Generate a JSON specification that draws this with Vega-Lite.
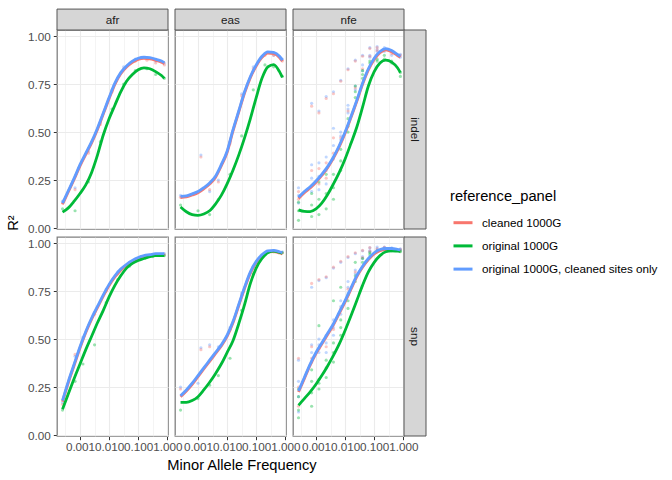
{
"$schema":"https://vega.github.io/schema/vega-lite/v6.json",
"padding":{"left":6,"top":7,"right":5,"bottom":5},
"background":"white",
"config":{"font":"Liberation Sans","view":{"stroke":"#808080","strokeWidth":1.3}},
"data":{"values":[
{"k":"cs","c":"afr","r":"indel","lab":"afr"},
{"k":"cs","c":"eas","r":"indel","lab":"eas"},
{"k":"cs","c":"nfe","r":"indel","lab":"nfe"},
{"k":"rs","c":"nfe","r":"indel","lab":"indel"},
{"k":"rs","c":"nfe","r":"snp","lab":"snp"},
{"k":"l","c":"afr","r":"indel","s":"original 1000G, cleaned sites only","x":0.000251,"y":0.13},
{"k":"l","c":"afr","r":"indel","s":"original 1000G, cleaned sites only","x":0.000398,"y":0.195},
{"k":"l","c":"afr","r":"indel","s":"original 1000G, cleaned sites only","x":0.000631,"y":0.26},
{"k":"l","c":"afr","r":"indel","s":"original 1000G, cleaned sites only","x":0.001,"y":0.33},
{"k":"l","c":"afr","r":"indel","s":"original 1000G, cleaned sites only","x":0.00158,"y":0.39},
{"k":"l","c":"afr","r":"indel","s":"original 1000G, cleaned sites only","x":0.00251,"y":0.45},
{"k":"l","c":"afr","r":"indel","s":"original 1000G, cleaned sites only","x":0.00398,"y":0.52},
{"k":"l","c":"afr","r":"indel","s":"original 1000G, cleaned sites only","x":0.00631,"y":0.6},
{"k":"l","c":"afr","r":"indel","s":"original 1000G, cleaned sites only","x":0.01,"y":0.68},
{"k":"l","c":"afr","r":"indel","s":"original 1000G, cleaned sites only","x":0.0158,"y":0.755},
{"k":"l","c":"afr","r":"indel","s":"original 1000G, cleaned sites only","x":0.0251,"y":0.81},
{"k":"l","c":"afr","r":"indel","s":"original 1000G, cleaned sites only","x":0.0398,"y":0.845},
{"k":"l","c":"afr","r":"indel","s":"original 1000G, cleaned sites only","x":0.0631,"y":0.87},
{"k":"l","c":"afr","r":"indel","s":"original 1000G, cleaned sites only","x":0.1,"y":0.885},
{"k":"l","c":"afr","r":"indel","s":"original 1000G, cleaned sites only","x":0.158,"y":0.89},
{"k":"l","c":"afr","r":"indel","s":"original 1000G, cleaned sites only","x":0.251,"y":0.888},
{"k":"l","c":"afr","r":"indel","s":"original 1000G, cleaned sites only","x":0.398,"y":0.88},
{"k":"l","c":"afr","r":"indel","s":"original 1000G, cleaned sites only","x":0.631,"y":0.87},
{"k":"l","c":"afr","r":"indel","s":"original 1000G, cleaned sites only","x":0.794,"y":0.862},
{"k":"l","c":"afr","r":"indel","s":"original 1000G","x":0.000251,"y":0.083},
{"k":"l","c":"afr","r":"indel","s":"original 1000G","x":0.000398,"y":0.105},
{"k":"l","c":"afr","r":"indel","s":"original 1000G","x":0.000631,"y":0.14},
{"k":"l","c":"afr","r":"indel","s":"original 1000G","x":0.001,"y":0.18},
{"k":"l","c":"afr","r":"indel","s":"original 1000G","x":0.00158,"y":0.225},
{"k":"l","c":"afr","r":"indel","s":"original 1000G","x":0.00251,"y":0.29},
{"k":"l","c":"afr","r":"indel","s":"original 1000G","x":0.00398,"y":0.38},
{"k":"l","c":"afr","r":"indel","s":"original 1000G","x":0.00631,"y":0.485},
{"k":"l","c":"afr","r":"indel","s":"original 1000G","x":0.01,"y":0.57},
{"k":"l","c":"afr","r":"indel","s":"original 1000G","x":0.0158,"y":0.64},
{"k":"l","c":"afr","r":"indel","s":"original 1000G","x":0.0251,"y":0.71},
{"k":"l","c":"afr","r":"indel","s":"original 1000G","x":0.0398,"y":0.765},
{"k":"l","c":"afr","r":"indel","s":"original 1000G","x":0.0631,"y":0.8},
{"k":"l","c":"afr","r":"indel","s":"original 1000G","x":0.1,"y":0.825},
{"k":"l","c":"afr","r":"indel","s":"original 1000G","x":0.158,"y":0.835},
{"k":"l","c":"afr","r":"indel","s":"original 1000G","x":0.251,"y":0.83},
{"k":"l","c":"afr","r":"indel","s":"original 1000G","x":0.398,"y":0.815},
{"k":"l","c":"afr","r":"indel","s":"original 1000G","x":0.631,"y":0.795},
{"k":"l","c":"afr","r":"indel","s":"original 1000G","x":0.794,"y":0.78},
{"k":"l","c":"afr","r":"indel","s":"cleaned 1000G","x":0.000251,"y":0.124},
{"k":"l","c":"afr","r":"indel","s":"cleaned 1000G","x":0.000398,"y":0.189},
{"k":"l","c":"afr","r":"indel","s":"cleaned 1000G","x":0.000631,"y":0.254},
{"k":"l","c":"afr","r":"indel","s":"cleaned 1000G","x":0.001,"y":0.324},
{"k":"l","c":"afr","r":"indel","s":"cleaned 1000G","x":0.00158,"y":0.384},
{"k":"l","c":"afr","r":"indel","s":"cleaned 1000G","x":0.00251,"y":0.444},
{"k":"l","c":"afr","r":"indel","s":"cleaned 1000G","x":0.00398,"y":0.514},
{"k":"l","c":"afr","r":"indel","s":"cleaned 1000G","x":0.00631,"y":0.594},
{"k":"l","c":"afr","r":"indel","s":"cleaned 1000G","x":0.01,"y":0.674},
{"k":"l","c":"afr","r":"indel","s":"cleaned 1000G","x":0.0158,"y":0.749},
{"k":"l","c":"afr","r":"indel","s":"cleaned 1000G","x":0.0251,"y":0.804},
{"k":"l","c":"afr","r":"indel","s":"cleaned 1000G","x":0.0398,"y":0.839},
{"k":"l","c":"afr","r":"indel","s":"cleaned 1000G","x":0.0631,"y":0.864},
{"k":"l","c":"afr","r":"indel","s":"cleaned 1000G","x":0.1,"y":0.879},
{"k":"l","c":"afr","r":"indel","s":"cleaned 1000G","x":0.158,"y":0.884},
{"k":"l","c":"afr","r":"indel","s":"cleaned 1000G","x":0.251,"y":0.882},
{"k":"l","c":"afr","r":"indel","s":"cleaned 1000G","x":0.398,"y":0.874},
{"k":"l","c":"afr","r":"indel","s":"cleaned 1000G","x":0.631,"y":0.864},
{"k":"l","c":"afr","r":"indel","s":"cleaned 1000G","x":0.794,"y":0.856},
{"k":"l","c":"eas","r":"indel","s":"original 1000G, cleaned sites only","x":0.000251,"y":0.165},
{"k":"l","c":"eas","r":"indel","s":"original 1000G, cleaned sites only","x":0.000398,"y":0.168},
{"k":"l","c":"eas","r":"indel","s":"original 1000G, cleaned sites only","x":0.000631,"y":0.178},
{"k":"l","c":"eas","r":"indel","s":"original 1000G, cleaned sites only","x":0.001,"y":0.19},
{"k":"l","c":"eas","r":"indel","s":"original 1000G, cleaned sites only","x":0.00158,"y":0.21},
{"k":"l","c":"eas","r":"indel","s":"original 1000G, cleaned sites only","x":0.00251,"y":0.235},
{"k":"l","c":"eas","r":"indel","s":"original 1000G, cleaned sites only","x":0.00398,"y":0.27},
{"k":"l","c":"eas","r":"indel","s":"original 1000G, cleaned sites only","x":0.00631,"y":0.33},
{"k":"l","c":"eas","r":"indel","s":"original 1000G, cleaned sites only","x":0.01,"y":0.4},
{"k":"l","c":"eas","r":"indel","s":"original 1000G, cleaned sites only","x":0.0158,"y":0.51},
{"k":"l","c":"eas","r":"indel","s":"original 1000G, cleaned sites only","x":0.0251,"y":0.61},
{"k":"l","c":"eas","r":"indel","s":"original 1000G, cleaned sites only","x":0.0398,"y":0.71},
{"k":"l","c":"eas","r":"indel","s":"original 1000G, cleaned sites only","x":0.0631,"y":0.79},
{"k":"l","c":"eas","r":"indel","s":"original 1000G, cleaned sites only","x":0.1,"y":0.85},
{"k":"l","c":"eas","r":"indel","s":"original 1000G, cleaned sites only","x":0.158,"y":0.895},
{"k":"l","c":"eas","r":"indel","s":"original 1000G, cleaned sites only","x":0.251,"y":0.918},
{"k":"l","c":"eas","r":"indel","s":"original 1000G, cleaned sites only","x":0.398,"y":0.915},
{"k":"l","c":"eas","r":"indel","s":"original 1000G, cleaned sites only","x":0.631,"y":0.895},
{"k":"l","c":"eas","r":"indel","s":"original 1000G, cleaned sites only","x":0.794,"y":0.875},
{"k":"l","c":"eas","r":"indel","s":"original 1000G","x":0.000251,"y":0.11},
{"k":"l","c":"eas","r":"indel","s":"original 1000G","x":0.000398,"y":0.085},
{"k":"l","c":"eas","r":"indel","s":"original 1000G","x":0.000631,"y":0.07},
{"k":"l","c":"eas","r":"indel","s":"original 1000G","x":0.001,"y":0.066},
{"k":"l","c":"eas","r":"indel","s":"original 1000G","x":0.00158,"y":0.073},
{"k":"l","c":"eas","r":"indel","s":"original 1000G","x":0.00251,"y":0.09},
{"k":"l","c":"eas","r":"indel","s":"original 1000G","x":0.00398,"y":0.125},
{"k":"l","c":"eas","r":"indel","s":"original 1000G","x":0.00631,"y":0.17},
{"k":"l","c":"eas","r":"indel","s":"original 1000G","x":0.01,"y":0.23},
{"k":"l","c":"eas","r":"indel","s":"original 1000G","x":0.0158,"y":0.3},
{"k":"l","c":"eas","r":"indel","s":"original 1000G","x":0.0251,"y":0.38},
{"k":"l","c":"eas","r":"indel","s":"original 1000G","x":0.0398,"y":0.47},
{"k":"l","c":"eas","r":"indel","s":"original 1000G","x":0.0631,"y":0.57},
{"k":"l","c":"eas","r":"indel","s":"original 1000G","x":0.1,"y":0.68},
{"k":"l","c":"eas","r":"indel","s":"original 1000G","x":0.158,"y":0.78},
{"k":"l","c":"eas","r":"indel","s":"original 1000G","x":0.251,"y":0.84},
{"k":"l","c":"eas","r":"indel","s":"original 1000G","x":0.398,"y":0.852},
{"k":"l","c":"eas","r":"indel","s":"original 1000G","x":0.631,"y":0.815},
{"k":"l","c":"eas","r":"indel","s":"original 1000G","x":0.794,"y":0.785},
{"k":"l","c":"eas","r":"indel","s":"cleaned 1000G","x":0.000251,"y":0.159},
{"k":"l","c":"eas","r":"indel","s":"cleaned 1000G","x":0.000398,"y":0.162},
{"k":"l","c":"eas","r":"indel","s":"cleaned 1000G","x":0.000631,"y":0.172},
{"k":"l","c":"eas","r":"indel","s":"cleaned 1000G","x":0.001,"y":0.184},
{"k":"l","c":"eas","r":"indel","s":"cleaned 1000G","x":0.00158,"y":0.204},
{"k":"l","c":"eas","r":"indel","s":"cleaned 1000G","x":0.00251,"y":0.229},
{"k":"l","c":"eas","r":"indel","s":"cleaned 1000G","x":0.00398,"y":0.264},
{"k":"l","c":"eas","r":"indel","s":"cleaned 1000G","x":0.00631,"y":0.324},
{"k":"l","c":"eas","r":"indel","s":"cleaned 1000G","x":0.01,"y":0.394},
{"k":"l","c":"eas","r":"indel","s":"cleaned 1000G","x":0.0158,"y":0.504},
{"k":"l","c":"eas","r":"indel","s":"cleaned 1000G","x":0.0251,"y":0.604},
{"k":"l","c":"eas","r":"indel","s":"cleaned 1000G","x":0.0398,"y":0.704},
{"k":"l","c":"eas","r":"indel","s":"cleaned 1000G","x":0.0631,"y":0.784},
{"k":"l","c":"eas","r":"indel","s":"cleaned 1000G","x":0.1,"y":0.844},
{"k":"l","c":"eas","r":"indel","s":"cleaned 1000G","x":0.158,"y":0.889},
{"k":"l","c":"eas","r":"indel","s":"cleaned 1000G","x":0.251,"y":0.912},
{"k":"l","c":"eas","r":"indel","s":"cleaned 1000G","x":0.398,"y":0.909},
{"k":"l","c":"eas","r":"indel","s":"cleaned 1000G","x":0.631,"y":0.889},
{"k":"l","c":"eas","r":"indel","s":"cleaned 1000G","x":0.794,"y":0.869},
{"k":"l","c":"nfe","r":"indel","s":"original 1000G, cleaned sites only","x":0.000251,"y":0.16},
{"k":"l","c":"nfe","r":"indel","s":"original 1000G, cleaned sites only","x":0.000398,"y":0.19},
{"k":"l","c":"nfe","r":"indel","s":"original 1000G, cleaned sites only","x":0.000631,"y":0.215},
{"k":"l","c":"nfe","r":"indel","s":"original 1000G, cleaned sites only","x":0.001,"y":0.245},
{"k":"l","c":"nfe","r":"indel","s":"original 1000G, cleaned sites only","x":0.00158,"y":0.28},
{"k":"l","c":"nfe","r":"indel","s":"original 1000G, cleaned sites only","x":0.00251,"y":0.32},
{"k":"l","c":"nfe","r":"indel","s":"original 1000G, cleaned sites only","x":0.00398,"y":0.37},
{"k":"l","c":"nfe","r":"indel","s":"original 1000G, cleaned sites only","x":0.00631,"y":0.43},
{"k":"l","c":"nfe","r":"indel","s":"original 1000G, cleaned sites only","x":0.01,"y":0.5},
{"k":"l","c":"nfe","r":"indel","s":"original 1000G, cleaned sites only","x":0.0158,"y":0.58},
{"k":"l","c":"nfe","r":"indel","s":"original 1000G, cleaned sites only","x":0.0251,"y":0.665},
{"k":"l","c":"nfe","r":"indel","s":"original 1000G, cleaned sites only","x":0.0398,"y":0.755},
{"k":"l","c":"nfe","r":"indel","s":"original 1000G, cleaned sites only","x":0.0631,"y":0.83},
{"k":"l","c":"nfe","r":"indel","s":"original 1000G, cleaned sites only","x":0.1,"y":0.885},
{"k":"l","c":"nfe","r":"indel","s":"original 1000G, cleaned sites only","x":0.158,"y":0.92},
{"k":"l","c":"nfe","r":"indel","s":"original 1000G, cleaned sites only","x":0.251,"y":0.935},
{"k":"l","c":"nfe","r":"indel","s":"original 1000G, cleaned sites only","x":0.398,"y":0.925},
{"k":"l","c":"nfe","r":"indel","s":"original 1000G, cleaned sites only","x":0.631,"y":0.905},
{"k":"l","c":"nfe","r":"indel","s":"original 1000G, cleaned sites only","x":0.794,"y":0.895},
{"k":"l","c":"nfe","r":"indel","s":"original 1000G","x":0.000251,"y":0.095},
{"k":"l","c":"nfe","r":"indel","s":"original 1000G","x":0.000398,"y":0.087},
{"k":"l","c":"nfe","r":"indel","s":"original 1000G","x":0.000631,"y":0.086},
{"k":"l","c":"nfe","r":"indel","s":"original 1000G","x":0.001,"y":0.1},
{"k":"l","c":"nfe","r":"indel","s":"original 1000G","x":0.00158,"y":0.13},
{"k":"l","c":"nfe","r":"indel","s":"original 1000G","x":0.00251,"y":0.175},
{"k":"l","c":"nfe","r":"indel","s":"original 1000G","x":0.00398,"y":0.23},
{"k":"l","c":"nfe","r":"indel","s":"original 1000G","x":0.00631,"y":0.29},
{"k":"l","c":"nfe","r":"indel","s":"original 1000G","x":0.01,"y":0.36},
{"k":"l","c":"nfe","r":"indel","s":"original 1000G","x":0.0158,"y":0.44},
{"k":"l","c":"nfe","r":"indel","s":"original 1000G","x":0.0251,"y":0.525},
{"k":"l","c":"nfe","r":"indel","s":"original 1000G","x":0.0398,"y":0.63},
{"k":"l","c":"nfe","r":"indel","s":"original 1000G","x":0.0631,"y":0.74},
{"k":"l","c":"nfe","r":"indel","s":"original 1000G","x":0.1,"y":0.815},
{"k":"l","c":"nfe","r":"indel","s":"original 1000G","x":0.158,"y":0.86},
{"k":"l","c":"nfe","r":"indel","s":"original 1000G","x":0.251,"y":0.875},
{"k":"l","c":"nfe","r":"indel","s":"original 1000G","x":0.398,"y":0.865},
{"k":"l","c":"nfe","r":"indel","s":"original 1000G","x":0.631,"y":0.835},
{"k":"l","c":"nfe","r":"indel","s":"original 1000G","x":0.794,"y":0.81},
{"k":"l","c":"nfe","r":"indel","s":"cleaned 1000G","x":0.000251,"y":0.154},
{"k":"l","c":"nfe","r":"indel","s":"cleaned 1000G","x":0.000398,"y":0.184},
{"k":"l","c":"nfe","r":"indel","s":"cleaned 1000G","x":0.000631,"y":0.209},
{"k":"l","c":"nfe","r":"indel","s":"cleaned 1000G","x":0.001,"y":0.239},
{"k":"l","c":"nfe","r":"indel","s":"cleaned 1000G","x":0.00158,"y":0.274},
{"k":"l","c":"nfe","r":"indel","s":"cleaned 1000G","x":0.00251,"y":0.314},
{"k":"l","c":"nfe","r":"indel","s":"cleaned 1000G","x":0.00398,"y":0.364},
{"k":"l","c":"nfe","r":"indel","s":"cleaned 1000G","x":0.00631,"y":0.424},
{"k":"l","c":"nfe","r":"indel","s":"cleaned 1000G","x":0.01,"y":0.494},
{"k":"l","c":"nfe","r":"indel","s":"cleaned 1000G","x":0.0158,"y":0.574},
{"k":"l","c":"nfe","r":"indel","s":"cleaned 1000G","x":0.0251,"y":0.659},
{"k":"l","c":"nfe","r":"indel","s":"cleaned 1000G","x":0.0398,"y":0.749},
{"k":"l","c":"nfe","r":"indel","s":"cleaned 1000G","x":0.0631,"y":0.824},
{"k":"l","c":"nfe","r":"indel","s":"cleaned 1000G","x":0.1,"y":0.879},
{"k":"l","c":"nfe","r":"indel","s":"cleaned 1000G","x":0.158,"y":0.914},
{"k":"l","c":"nfe","r":"indel","s":"cleaned 1000G","x":0.251,"y":0.929},
{"k":"l","c":"nfe","r":"indel","s":"cleaned 1000G","x":0.398,"y":0.919},
{"k":"l","c":"nfe","r":"indel","s":"cleaned 1000G","x":0.631,"y":0.899},
{"k":"l","c":"nfe","r":"indel","s":"cleaned 1000G","x":0.794,"y":0.889},
{"k":"l","c":"afr","r":"snp","s":"original 1000G, cleaned sites only","x":0.000251,"y":0.18},
{"k":"l","c":"afr","r":"snp","s":"original 1000G, cleaned sites only","x":0.000398,"y":0.28},
{"k":"l","c":"afr","r":"snp","s":"original 1000G, cleaned sites only","x":0.000631,"y":0.37},
{"k":"l","c":"afr","r":"snp","s":"original 1000G, cleaned sites only","x":0.001,"y":0.46},
{"k":"l","c":"afr","r":"snp","s":"original 1000G, cleaned sites only","x":0.00158,"y":0.54},
{"k":"l","c":"afr","r":"snp","s":"original 1000G, cleaned sites only","x":0.00251,"y":0.61},
{"k":"l","c":"afr","r":"snp","s":"original 1000G, cleaned sites only","x":0.00398,"y":0.67},
{"k":"l","c":"afr","r":"snp","s":"original 1000G, cleaned sites only","x":0.00631,"y":0.73},
{"k":"l","c":"afr","r":"snp","s":"original 1000G, cleaned sites only","x":0.01,"y":0.785},
{"k":"l","c":"afr","r":"snp","s":"original 1000G, cleaned sites only","x":0.0158,"y":0.83},
{"k":"l","c":"afr","r":"snp","s":"original 1000G, cleaned sites only","x":0.0251,"y":0.865},
{"k":"l","c":"afr","r":"snp","s":"original 1000G, cleaned sites only","x":0.0398,"y":0.89},
{"k":"l","c":"afr","r":"snp","s":"original 1000G, cleaned sites only","x":0.0631,"y":0.91},
{"k":"l","c":"afr","r":"snp","s":"original 1000G, cleaned sites only","x":0.1,"y":0.925},
{"k":"l","c":"afr","r":"snp","s":"original 1000G, cleaned sites only","x":0.158,"y":0.935},
{"k":"l","c":"afr","r":"snp","s":"original 1000G, cleaned sites only","x":0.251,"y":0.94},
{"k":"l","c":"afr","r":"snp","s":"original 1000G, cleaned sites only","x":0.398,"y":0.945},
{"k":"l","c":"afr","r":"snp","s":"original 1000G, cleaned sites only","x":0.631,"y":0.945},
{"k":"l","c":"afr","r":"snp","s":"original 1000G, cleaned sites only","x":0.794,"y":0.945},
{"k":"l","c":"afr","r":"snp","s":"original 1000G","x":0.000251,"y":0.135},
{"k":"l","c":"afr","r":"snp","s":"original 1000G","x":0.000398,"y":0.215},
{"k":"l","c":"afr","r":"snp","s":"original 1000G","x":0.000631,"y":0.295},
{"k":"l","c":"afr","r":"snp","s":"original 1000G","x":0.001,"y":0.37},
{"k":"l","c":"afr","r":"snp","s":"original 1000G","x":0.00158,"y":0.445},
{"k":"l","c":"afr","r":"snp","s":"original 1000G","x":0.00251,"y":0.515},
{"k":"l","c":"afr","r":"snp","s":"original 1000G","x":0.00398,"y":0.585},
{"k":"l","c":"afr","r":"snp","s":"original 1000G","x":0.00631,"y":0.65},
{"k":"l","c":"afr","r":"snp","s":"original 1000G","x":0.01,"y":0.72},
{"k":"l","c":"afr","r":"snp","s":"original 1000G","x":0.0158,"y":0.78},
{"k":"l","c":"afr","r":"snp","s":"original 1000G","x":0.0251,"y":0.83},
{"k":"l","c":"afr","r":"snp","s":"original 1000G","x":0.0398,"y":0.87},
{"k":"l","c":"afr","r":"snp","s":"original 1000G","x":0.0631,"y":0.895},
{"k":"l","c":"afr","r":"snp","s":"original 1000G","x":0.1,"y":0.91},
{"k":"l","c":"afr","r":"snp","s":"original 1000G","x":0.158,"y":0.92},
{"k":"l","c":"afr","r":"snp","s":"original 1000G","x":0.251,"y":0.93},
{"k":"l","c":"afr","r":"snp","s":"original 1000G","x":0.398,"y":0.935},
{"k":"l","c":"afr","r":"snp","s":"original 1000G","x":0.631,"y":0.935},
{"k":"l","c":"afr","r":"snp","s":"original 1000G","x":0.794,"y":0.935},
{"k":"l","c":"afr","r":"snp","s":"cleaned 1000G","x":0.000251,"y":0.174},
{"k":"l","c":"afr","r":"snp","s":"cleaned 1000G","x":0.000398,"y":0.274},
{"k":"l","c":"afr","r":"snp","s":"cleaned 1000G","x":0.000631,"y":0.364},
{"k":"l","c":"afr","r":"snp","s":"cleaned 1000G","x":0.001,"y":0.454},
{"k":"l","c":"afr","r":"snp","s":"cleaned 1000G","x":0.00158,"y":0.534},
{"k":"l","c":"afr","r":"snp","s":"cleaned 1000G","x":0.00251,"y":0.604},
{"k":"l","c":"afr","r":"snp","s":"cleaned 1000G","x":0.00398,"y":0.664},
{"k":"l","c":"afr","r":"snp","s":"cleaned 1000G","x":0.00631,"y":0.724},
{"k":"l","c":"afr","r":"snp","s":"cleaned 1000G","x":0.01,"y":0.779},
{"k":"l","c":"afr","r":"snp","s":"cleaned 1000G","x":0.0158,"y":0.824},
{"k":"l","c":"afr","r":"snp","s":"cleaned 1000G","x":0.0251,"y":0.859},
{"k":"l","c":"afr","r":"snp","s":"cleaned 1000G","x":0.0398,"y":0.884},
{"k":"l","c":"afr","r":"snp","s":"cleaned 1000G","x":0.0631,"y":0.904},
{"k":"l","c":"afr","r":"snp","s":"cleaned 1000G","x":0.1,"y":0.919},
{"k":"l","c":"afr","r":"snp","s":"cleaned 1000G","x":0.158,"y":0.929},
{"k":"l","c":"afr","r":"snp","s":"cleaned 1000G","x":0.251,"y":0.934},
{"k":"l","c":"afr","r":"snp","s":"cleaned 1000G","x":0.398,"y":0.939},
{"k":"l","c":"afr","r":"snp","s":"cleaned 1000G","x":0.631,"y":0.939},
{"k":"l","c":"afr","r":"snp","s":"cleaned 1000G","x":0.794,"y":0.939},
{"k":"l","c":"eas","r":"snp","s":"original 1000G, cleaned sites only","x":0.000251,"y":0.205},
{"k":"l","c":"eas","r":"snp","s":"original 1000G, cleaned sites only","x":0.000398,"y":0.235},
{"k":"l","c":"eas","r":"snp","s":"original 1000G, cleaned sites only","x":0.000631,"y":0.27},
{"k":"l","c":"eas","r":"snp","s":"original 1000G, cleaned sites only","x":0.001,"y":0.31},
{"k":"l","c":"eas","r":"snp","s":"original 1000G, cleaned sites only","x":0.00158,"y":0.35},
{"k":"l","c":"eas","r":"snp","s":"original 1000G, cleaned sites only","x":0.00251,"y":0.39},
{"k":"l","c":"eas","r":"snp","s":"original 1000G, cleaned sites only","x":0.00398,"y":0.43},
{"k":"l","c":"eas","r":"snp","s":"original 1000G, cleaned sites only","x":0.00631,"y":0.47},
{"k":"l","c":"eas","r":"snp","s":"original 1000G, cleaned sites only","x":0.01,"y":0.52},
{"k":"l","c":"eas","r":"snp","s":"original 1000G, cleaned sites only","x":0.0158,"y":0.59},
{"k":"l","c":"eas","r":"snp","s":"original 1000G, cleaned sites only","x":0.0251,"y":0.68},
{"k":"l","c":"eas","r":"snp","s":"original 1000G, cleaned sites only","x":0.0398,"y":0.77},
{"k":"l","c":"eas","r":"snp","s":"original 1000G, cleaned sites only","x":0.0631,"y":0.85},
{"k":"l","c":"eas","r":"snp","s":"original 1000G, cleaned sites only","x":0.1,"y":0.905},
{"k":"l","c":"eas","r":"snp","s":"original 1000G, cleaned sites only","x":0.158,"y":0.94},
{"k":"l","c":"eas","r":"snp","s":"original 1000G, cleaned sites only","x":0.251,"y":0.96},
{"k":"l","c":"eas","r":"snp","s":"original 1000G, cleaned sites only","x":0.398,"y":0.962},
{"k":"l","c":"eas","r":"snp","s":"original 1000G, cleaned sites only","x":0.631,"y":0.955},
{"k":"l","c":"eas","r":"snp","s":"original 1000G, cleaned sites only","x":0.794,"y":0.95},
{"k":"l","c":"eas","r":"snp","s":"original 1000G","x":0.000251,"y":0.17},
{"k":"l","c":"eas","r":"snp","s":"original 1000G","x":0.000398,"y":0.17},
{"k":"l","c":"eas","r":"snp","s":"original 1000G","x":0.000631,"y":0.18},
{"k":"l","c":"eas","r":"snp","s":"original 1000G","x":0.001,"y":0.2},
{"k":"l","c":"eas","r":"snp","s":"original 1000G","x":0.00158,"y":0.235},
{"k":"l","c":"eas","r":"snp","s":"original 1000G","x":0.00251,"y":0.275},
{"k":"l","c":"eas","r":"snp","s":"original 1000G","x":0.00398,"y":0.32},
{"k":"l","c":"eas","r":"snp","s":"original 1000G","x":0.00631,"y":0.37},
{"k":"l","c":"eas","r":"snp","s":"original 1000G","x":0.01,"y":0.43},
{"k":"l","c":"eas","r":"snp","s":"original 1000G","x":0.0158,"y":0.49},
{"k":"l","c":"eas","r":"snp","s":"original 1000G","x":0.0251,"y":0.58},
{"k":"l","c":"eas","r":"snp","s":"original 1000G","x":0.0398,"y":0.68},
{"k":"l","c":"eas","r":"snp","s":"original 1000G","x":0.0631,"y":0.79},
{"k":"l","c":"eas","r":"snp","s":"original 1000G","x":0.1,"y":0.87},
{"k":"l","c":"eas","r":"snp","s":"original 1000G","x":0.158,"y":0.92},
{"k":"l","c":"eas","r":"snp","s":"original 1000G","x":0.251,"y":0.95},
{"k":"l","c":"eas","r":"snp","s":"original 1000G","x":0.398,"y":0.958},
{"k":"l","c":"eas","r":"snp","s":"original 1000G","x":0.631,"y":0.952},
{"k":"l","c":"eas","r":"snp","s":"original 1000G","x":0.794,"y":0.948},
{"k":"l","c":"eas","r":"snp","s":"cleaned 1000G","x":0.000251,"y":0.199},
{"k":"l","c":"eas","r":"snp","s":"cleaned 1000G","x":0.000398,"y":0.229},
{"k":"l","c":"eas","r":"snp","s":"cleaned 1000G","x":0.000631,"y":0.264},
{"k":"l","c":"eas","r":"snp","s":"cleaned 1000G","x":0.001,"y":0.304},
{"k":"l","c":"eas","r":"snp","s":"cleaned 1000G","x":0.00158,"y":0.344},
{"k":"l","c":"eas","r":"snp","s":"cleaned 1000G","x":0.00251,"y":0.384},
{"k":"l","c":"eas","r":"snp","s":"cleaned 1000G","x":0.00398,"y":0.424},
{"k":"l","c":"eas","r":"snp","s":"cleaned 1000G","x":0.00631,"y":0.464},
{"k":"l","c":"eas","r":"snp","s":"cleaned 1000G","x":0.01,"y":0.514},
{"k":"l","c":"eas","r":"snp","s":"cleaned 1000G","x":0.0158,"y":0.584},
{"k":"l","c":"eas","r":"snp","s":"cleaned 1000G","x":0.0251,"y":0.674},
{"k":"l","c":"eas","r":"snp","s":"cleaned 1000G","x":0.0398,"y":0.764},
{"k":"l","c":"eas","r":"snp","s":"cleaned 1000G","x":0.0631,"y":0.844},
{"k":"l","c":"eas","r":"snp","s":"cleaned 1000G","x":0.1,"y":0.899},
{"k":"l","c":"eas","r":"snp","s":"cleaned 1000G","x":0.158,"y":0.934},
{"k":"l","c":"eas","r":"snp","s":"cleaned 1000G","x":0.251,"y":0.954},
{"k":"l","c":"eas","r":"snp","s":"cleaned 1000G","x":0.398,"y":0.956},
{"k":"l","c":"eas","r":"snp","s":"cleaned 1000G","x":0.631,"y":0.949},
{"k":"l","c":"eas","r":"snp","s":"cleaned 1000G","x":0.794,"y":0.944},
{"k":"l","c":"nfe","r":"snp","s":"original 1000G, cleaned sites only","x":0.000251,"y":0.23},
{"k":"l","c":"nfe","r":"snp","s":"original 1000G, cleaned sites only","x":0.000398,"y":0.3},
{"k":"l","c":"nfe","r":"snp","s":"original 1000G, cleaned sites only","x":0.000631,"y":0.37},
{"k":"l","c":"nfe","r":"snp","s":"original 1000G, cleaned sites only","x":0.001,"y":0.43},
{"k":"l","c":"nfe","r":"snp","s":"original 1000G, cleaned sites only","x":0.00158,"y":0.48},
{"k":"l","c":"nfe","r":"snp","s":"original 1000G, cleaned sites only","x":0.00251,"y":0.53},
{"k":"l","c":"nfe","r":"snp","s":"original 1000G, cleaned sites only","x":0.00398,"y":0.58},
{"k":"l","c":"nfe","r":"snp","s":"original 1000G, cleaned sites only","x":0.00631,"y":0.64},
{"k":"l","c":"nfe","r":"snp","s":"original 1000G, cleaned sites only","x":0.01,"y":0.7},
{"k":"l","c":"nfe","r":"snp","s":"original 1000G, cleaned sites only","x":0.0158,"y":0.765},
{"k":"l","c":"nfe","r":"snp","s":"original 1000G, cleaned sites only","x":0.0251,"y":0.83},
{"k":"l","c":"nfe","r":"snp","s":"original 1000G, cleaned sites only","x":0.0398,"y":0.88},
{"k":"l","c":"nfe","r":"snp","s":"original 1000G, cleaned sites only","x":0.0631,"y":0.92},
{"k":"l","c":"nfe","r":"snp","s":"original 1000G, cleaned sites only","x":0.1,"y":0.95},
{"k":"l","c":"nfe","r":"snp","s":"original 1000G, cleaned sites only","x":0.158,"y":0.967},
{"k":"l","c":"nfe","r":"snp","s":"original 1000G, cleaned sites only","x":0.251,"y":0.972},
{"k":"l","c":"nfe","r":"snp","s":"original 1000G, cleaned sites only","x":0.398,"y":0.972},
{"k":"l","c":"nfe","r":"snp","s":"original 1000G, cleaned sites only","x":0.631,"y":0.968},
{"k":"l","c":"nfe","r":"snp","s":"original 1000G, cleaned sites only","x":0.794,"y":0.965},
{"k":"l","c":"nfe","r":"snp","s":"original 1000G","x":0.000251,"y":0.155},
{"k":"l","c":"nfe","r":"snp","s":"original 1000G","x":0.000398,"y":0.19},
{"k":"l","c":"nfe","r":"snp","s":"original 1000G","x":0.000631,"y":0.225},
{"k":"l","c":"nfe","r":"snp","s":"original 1000G","x":0.001,"y":0.265},
{"k":"l","c":"nfe","r":"snp","s":"original 1000G","x":0.00158,"y":0.31},
{"k":"l","c":"nfe","r":"snp","s":"original 1000G","x":0.00251,"y":0.36},
{"k":"l","c":"nfe","r":"snp","s":"original 1000G","x":0.00398,"y":0.415},
{"k":"l","c":"nfe","r":"snp","s":"original 1000G","x":0.00631,"y":0.475},
{"k":"l","c":"nfe","r":"snp","s":"original 1000G","x":0.01,"y":0.545},
{"k":"l","c":"nfe","r":"snp","s":"original 1000G","x":0.0158,"y":0.62},
{"k":"l","c":"nfe","r":"snp","s":"original 1000G","x":0.0251,"y":0.7},
{"k":"l","c":"nfe","r":"snp","s":"original 1000G","x":0.0398,"y":0.78},
{"k":"l","c":"nfe","r":"snp","s":"original 1000G","x":0.0631,"y":0.85},
{"k":"l","c":"nfe","r":"snp","s":"original 1000G","x":0.1,"y":0.9},
{"k":"l","c":"nfe","r":"snp","s":"original 1000G","x":0.158,"y":0.935},
{"k":"l","c":"nfe","r":"snp","s":"original 1000G","x":0.251,"y":0.955},
{"k":"l","c":"nfe","r":"snp","s":"original 1000G","x":0.398,"y":0.96},
{"k":"l","c":"nfe","r":"snp","s":"original 1000G","x":0.631,"y":0.958},
{"k":"l","c":"nfe","r":"snp","s":"original 1000G","x":0.794,"y":0.957},
{"k":"l","c":"nfe","r":"snp","s":"cleaned 1000G","x":0.000251,"y":0.224},
{"k":"l","c":"nfe","r":"snp","s":"cleaned 1000G","x":0.000398,"y":0.294},
{"k":"l","c":"nfe","r":"snp","s":"cleaned 1000G","x":0.000631,"y":0.364},
{"k":"l","c":"nfe","r":"snp","s":"cleaned 1000G","x":0.001,"y":0.424},
{"k":"l","c":"nfe","r":"snp","s":"cleaned 1000G","x":0.00158,"y":0.474},
{"k":"l","c":"nfe","r":"snp","s":"cleaned 1000G","x":0.00251,"y":0.524},
{"k":"l","c":"nfe","r":"snp","s":"cleaned 1000G","x":0.00398,"y":0.574},
{"k":"l","c":"nfe","r":"snp","s":"cleaned 1000G","x":0.00631,"y":0.634},
{"k":"l","c":"nfe","r":"snp","s":"cleaned 1000G","x":0.01,"y":0.694},
{"k":"l","c":"nfe","r":"snp","s":"cleaned 1000G","x":0.0158,"y":0.759},
{"k":"l","c":"nfe","r":"snp","s":"cleaned 1000G","x":0.0251,"y":0.824},
{"k":"l","c":"nfe","r":"snp","s":"cleaned 1000G","x":0.0398,"y":0.874},
{"k":"l","c":"nfe","r":"snp","s":"cleaned 1000G","x":0.0631,"y":0.914},
{"k":"l","c":"nfe","r":"snp","s":"cleaned 1000G","x":0.1,"y":0.944},
{"k":"l","c":"nfe","r":"snp","s":"cleaned 1000G","x":0.158,"y":0.961},
{"k":"l","c":"nfe","r":"snp","s":"cleaned 1000G","x":0.251,"y":0.966},
{"k":"l","c":"nfe","r":"snp","s":"cleaned 1000G","x":0.398,"y":0.966},
{"k":"l","c":"nfe","r":"snp","s":"cleaned 1000G","x":0.631,"y":0.962},
{"k":"l","c":"nfe","r":"snp","s":"cleaned 1000G","x":0.794,"y":0.959},
{"k":"p","c":"afr","r":"indel","s":"original 1000G, cleaned sites only","x":0.000251,"y":0.14},
{"k":"p","c":"afr","r":"indel","s":"original 1000G, cleaned sites only","x":0.000676,"y":0.21},
{"k":"p","c":"afr","r":"indel","s":"original 1000G, cleaned sites only","x":0.00195,"y":0.4},
{"k":"p","c":"afr","r":"indel","s":"original 1000G, cleaned sites only","x":0.00501,"y":0.55},
{"k":"p","c":"afr","r":"indel","s":"original 1000G, cleaned sites only","x":0.0126,"y":0.72},
{"k":"p","c":"afr","r":"indel","s":"original 1000G, cleaned sites only","x":0.0316,"y":0.84},
{"k":"p","c":"afr","r":"indel","s":"original 1000G, cleaned sites only","x":0.0794,"y":0.88},
{"k":"p","c":"afr","r":"indel","s":"original 1000G, cleaned sites only","x":0.2,"y":0.885},
{"k":"p","c":"afr","r":"indel","s":"original 1000G, cleaned sites only","x":0.398,"y":0.87},
{"k":"p","c":"afr","r":"indel","s":"original 1000G, cleaned sites only","x":0.794,"y":0.86},
{"k":"p","c":"afr","r":"indel","s":"cleaned 1000G","x":0.000251,"y":0.13},
{"k":"p","c":"afr","r":"indel","s":"cleaned 1000G","x":0.000676,"y":0.2},
{"k":"p","c":"afr","r":"indel","s":"cleaned 1000G","x":0.00195,"y":0.39},
{"k":"p","c":"afr","r":"indel","s":"cleaned 1000G","x":0.00501,"y":0.54},
{"k":"p","c":"afr","r":"indel","s":"cleaned 1000G","x":0.0126,"y":0.71},
{"k":"p","c":"afr","r":"indel","s":"cleaned 1000G","x":0.0316,"y":0.83},
{"k":"p","c":"afr","r":"indel","s":"cleaned 1000G","x":0.0794,"y":0.87},
{"k":"p","c":"afr","r":"indel","s":"cleaned 1000G","x":0.2,"y":0.875},
{"k":"p","c":"afr","r":"indel","s":"cleaned 1000G","x":0.398,"y":0.86},
{"k":"p","c":"afr","r":"indel","s":"cleaned 1000G","x":0.794,"y":0.85},
{"k":"p","c":"afr","r":"indel","s":"original 1000G","x":0.000251,"y":0.1},
{"k":"p","c":"afr","r":"indel","s":"original 1000G","x":0.000676,"y":0.09},
{"k":"p","c":"afr","r":"indel","s":"original 1000G","x":0.00195,"y":0.24},
{"k":"p","c":"afr","r":"indel","s":"original 1000G","x":0.00501,"y":0.45},
{"k":"p","c":"afr","r":"indel","s":"original 1000G","x":0.0126,"y":0.62},
{"k":"p","c":"afr","r":"indel","s":"original 1000G","x":0.0316,"y":0.75},
{"k":"p","c":"afr","r":"indel","s":"original 1000G","x":0.0794,"y":0.82},
{"k":"p","c":"afr","r":"indel","s":"original 1000G","x":0.2,"y":0.83},
{"k":"p","c":"afr","r":"indel","s":"original 1000G","x":0.398,"y":0.8},
{"k":"p","c":"afr","r":"indel","s":"original 1000G","x":0.794,"y":0.78},
{"k":"p","c":"eas","r":"indel","s":"original 1000G, cleaned sites only","x":0.000251,"y":0.17},
{"k":"p","c":"eas","r":"indel","s":"original 1000G, cleaned sites only","x":0.00126,"y":0.38},
{"k":"p","c":"eas","r":"indel","s":"original 1000G, cleaned sites only","x":0.00251,"y":0.19},
{"k":"p","c":"eas","r":"indel","s":"original 1000G, cleaned sites only","x":0.00501,"y":0.25},
{"k":"p","c":"eas","r":"indel","s":"original 1000G, cleaned sites only","x":0.0126,"y":0.45},
{"k":"p","c":"eas","r":"indel","s":"original 1000G, cleaned sites only","x":0.0316,"y":0.7},
{"k":"p","c":"eas","r":"indel","s":"original 1000G, cleaned sites only","x":0.0794,"y":0.84},
{"k":"p","c":"eas","r":"indel","s":"original 1000G, cleaned sites only","x":0.2,"y":0.91},
{"k":"p","c":"eas","r":"indel","s":"original 1000G, cleaned sites only","x":0.398,"y":0.9},
{"k":"p","c":"eas","r":"indel","s":"original 1000G, cleaned sites only","x":0.794,"y":0.88},
{"k":"p","c":"eas","r":"indel","s":"cleaned 1000G","x":0.000251,"y":0.16},
{"k":"p","c":"eas","r":"indel","s":"cleaned 1000G","x":0.00126,"y":0.37},
{"k":"p","c":"eas","r":"indel","s":"cleaned 1000G","x":0.00251,"y":0.2},
{"k":"p","c":"eas","r":"indel","s":"cleaned 1000G","x":0.00501,"y":0.24},
{"k":"p","c":"eas","r":"indel","s":"cleaned 1000G","x":0.0126,"y":0.44},
{"k":"p","c":"eas","r":"indel","s":"cleaned 1000G","x":0.0316,"y":0.69},
{"k":"p","c":"eas","r":"indel","s":"cleaned 1000G","x":0.0794,"y":0.83},
{"k":"p","c":"eas","r":"indel","s":"cleaned 1000G","x":0.2,"y":0.9},
{"k":"p","c":"eas","r":"indel","s":"cleaned 1000G","x":0.398,"y":0.9},
{"k":"p","c":"eas","r":"indel","s":"cleaned 1000G","x":0.794,"y":0.87},
{"k":"p","c":"eas","r":"indel","s":"original 1000G","x":0.000251,"y":0.12},
{"k":"p","c":"eas","r":"indel","s":"original 1000G","x":0.001,"y":0.09},
{"k":"p","c":"eas","r":"indel","s":"original 1000G","x":0.00251,"y":0.07},
{"k":"p","c":"eas","r":"indel","s":"original 1000G","x":0.00501,"y":0.15},
{"k":"p","c":"eas","r":"indel","s":"original 1000G","x":0.0126,"y":0.28},
{"k":"p","c":"eas","r":"indel","s":"original 1000G","x":0.0316,"y":0.48},
{"k":"p","c":"eas","r":"indel","s":"original 1000G","x":0.0794,"y":0.72},
{"k":"p","c":"eas","r":"indel","s":"original 1000G","x":0.2,"y":0.85},
{"k":"p","c":"eas","r":"indel","s":"original 1000G","x":0.398,"y":0.84},
{"k":"p","c":"eas","r":"indel","s":"original 1000G","x":0.794,"y":0.79},
{"k":"p","c":"nfe","r":"indel","s":"original 1000G, cleaned sites only","x":0.000251,"y":0.13},
{"k":"p","c":"nfe","r":"indel","s":"original 1000G, cleaned sites only","x":0.000251,"y":0.17},
{"k":"p","c":"nfe","r":"indel","s":"original 1000G, cleaned sites only","x":0.000251,"y":0.21},
{"k":"p","c":"nfe","r":"indel","s":"original 1000G, cleaned sites only","x":0.000708,"y":0.19},
{"k":"p","c":"nfe","r":"indel","s":"original 1000G, cleaned sites only","x":0.000708,"y":0.26},
{"k":"p","c":"nfe","r":"indel","s":"original 1000G, cleaned sites only","x":0.000708,"y":0.33},
{"k":"p","c":"nfe","r":"indel","s":"original 1000G, cleaned sites only","x":0.000708,"y":0.65},
{"k":"p","c":"nfe","r":"indel","s":"original 1000G, cleaned sites only","x":0.00126,"y":0.2},
{"k":"p","c":"nfe","r":"indel","s":"original 1000G, cleaned sites only","x":0.00126,"y":0.27},
{"k":"p","c":"nfe","r":"indel","s":"original 1000G, cleaned sites only","x":0.00126,"y":0.34},
{"k":"p","c":"nfe","r":"indel","s":"original 1000G, cleaned sites only","x":0.00126,"y":0.61},
{"k":"p","c":"nfe","r":"indel","s":"original 1000G, cleaned sites only","x":0.00224,"y":0.23},
{"k":"p","c":"nfe","r":"indel","s":"original 1000G, cleaned sites only","x":0.00224,"y":0.3},
{"k":"p","c":"nfe","r":"indel","s":"original 1000G, cleaned sites only","x":0.00224,"y":0.37},
{"k":"p","c":"nfe","r":"indel","s":"original 1000G, cleaned sites only","x":0.00224,"y":0.685},
{"k":"p","c":"nfe","r":"indel","s":"original 1000G, cleaned sites only","x":0.00398,"y":0.36},
{"k":"p","c":"nfe","r":"indel","s":"original 1000G, cleaned sites only","x":0.00398,"y":0.43},
{"k":"p","c":"nfe","r":"indel","s":"original 1000G, cleaned sites only","x":0.00398,"y":0.52},
{"k":"p","c":"nfe","r":"indel","s":"original 1000G, cleaned sites only","x":0.00398,"y":0.71},
{"k":"p","c":"nfe","r":"indel","s":"original 1000G, cleaned sites only","x":0.00708,"y":0.46},
{"k":"p","c":"nfe","r":"indel","s":"original 1000G, cleaned sites only","x":0.00708,"y":0.48},
{"k":"p","c":"nfe","r":"indel","s":"original 1000G, cleaned sites only","x":0.00708,"y":0.5},
{"k":"p","c":"nfe","r":"indel","s":"original 1000G, cleaned sites only","x":0.00708,"y":0.77},
{"k":"p","c":"nfe","r":"indel","s":"original 1000G, cleaned sites only","x":0.0126,"y":0.6},
{"k":"p","c":"nfe","r":"indel","s":"original 1000G, cleaned sites only","x":0.0126,"y":0.62},
{"k":"p","c":"nfe","r":"indel","s":"original 1000G, cleaned sites only","x":0.0126,"y":0.64},
{"k":"p","c":"nfe","r":"indel","s":"original 1000G, cleaned sites only","x":0.0126,"y":0.83},
{"k":"p","c":"nfe","r":"indel","s":"original 1000G, cleaned sites only","x":0.0224,"y":0.72},
{"k":"p","c":"nfe","r":"indel","s":"original 1000G, cleaned sites only","x":0.0224,"y":0.74},
{"k":"p","c":"nfe","r":"indel","s":"original 1000G, cleaned sites only","x":0.0224,"y":0.875},
{"k":"p","c":"nfe","r":"indel","s":"original 1000G, cleaned sites only","x":0.0398,"y":0.82},
{"k":"p","c":"nfe","r":"indel","s":"original 1000G, cleaned sites only","x":0.0398,"y":0.85},
{"k":"p","c":"nfe","r":"indel","s":"original 1000G, cleaned sites only","x":0.0398,"y":0.9},
{"k":"p","c":"nfe","r":"indel","s":"original 1000G, cleaned sites only","x":0.0708,"y":0.89},
{"k":"p","c":"nfe","r":"indel","s":"original 1000G, cleaned sites only","x":0.0708,"y":0.9},
{"k":"p","c":"nfe","r":"indel","s":"original 1000G, cleaned sites only","x":0.0708,"y":0.94},
{"k":"p","c":"nfe","r":"indel","s":"original 1000G, cleaned sites only","x":0.126,"y":0.92},
{"k":"p","c":"nfe","r":"indel","s":"original 1000G, cleaned sites only","x":0.126,"y":0.93},
{"k":"p","c":"nfe","r":"indel","s":"original 1000G, cleaned sites only","x":0.126,"y":0.945},
{"k":"p","c":"nfe","r":"indel","s":"original 1000G, cleaned sites only","x":0.224,"y":0.92},
{"k":"p","c":"nfe","r":"indel","s":"original 1000G, cleaned sites only","x":0.224,"y":0.94},
{"k":"p","c":"nfe","r":"indel","s":"original 1000G, cleaned sites only","x":0.398,"y":0.9},
{"k":"p","c":"nfe","r":"indel","s":"original 1000G, cleaned sites only","x":0.398,"y":0.92},
{"k":"p","c":"nfe","r":"indel","s":"original 1000G, cleaned sites only","x":0.794,"y":0.89},
{"k":"p","c":"nfe","r":"indel","s":"original 1000G, cleaned sites only","x":0.794,"y":0.905},
{"k":"p","c":"nfe","r":"indel","s":"cleaned 1000G","x":0.000251,"y":0.15},
{"k":"p","c":"nfe","r":"indel","s":"cleaned 1000G","x":0.000251,"y":0.19},
{"k":"p","c":"nfe","r":"indel","s":"cleaned 1000G","x":0.000708,"y":0.22},
{"k":"p","c":"nfe","r":"indel","s":"cleaned 1000G","x":0.000708,"y":0.3},
{"k":"p","c":"nfe","r":"indel","s":"cleaned 1000G","x":0.000708,"y":0.635},
{"k":"p","c":"nfe","r":"indel","s":"cleaned 1000G","x":0.00126,"y":0.23},
{"k":"p","c":"nfe","r":"indel","s":"cleaned 1000G","x":0.00126,"y":0.31},
{"k":"p","c":"nfe","r":"indel","s":"cleaned 1000G","x":0.00126,"y":0.6},
{"k":"p","c":"nfe","r":"indel","s":"cleaned 1000G","x":0.00224,"y":0.26},
{"k":"p","c":"nfe","r":"indel","s":"cleaned 1000G","x":0.00224,"y":0.34},
{"k":"p","c":"nfe","r":"indel","s":"cleaned 1000G","x":0.00224,"y":0.675},
{"k":"p","c":"nfe","r":"indel","s":"cleaned 1000G","x":0.00398,"y":0.39},
{"k":"p","c":"nfe","r":"indel","s":"cleaned 1000G","x":0.00398,"y":0.47},
{"k":"p","c":"nfe","r":"indel","s":"cleaned 1000G","x":0.00398,"y":0.7},
{"k":"p","c":"nfe","r":"indel","s":"cleaned 1000G","x":0.00708,"y":0.47},
{"k":"p","c":"nfe","r":"indel","s":"cleaned 1000G","x":0.00708,"y":0.765},
{"k":"p","c":"nfe","r":"indel","s":"cleaned 1000G","x":0.0126,"y":0.61},
{"k":"p","c":"nfe","r":"indel","s":"cleaned 1000G","x":0.0126,"y":0.825},
{"k":"p","c":"nfe","r":"indel","s":"cleaned 1000G","x":0.0224,"y":0.73},
{"k":"p","c":"nfe","r":"indel","s":"cleaned 1000G","x":0.0224,"y":0.87},
{"k":"p","c":"nfe","r":"indel","s":"cleaned 1000G","x":0.0398,"y":0.83},
{"k":"p","c":"nfe","r":"indel","s":"cleaned 1000G","x":0.0398,"y":0.895},
{"k":"p","c":"nfe","r":"indel","s":"cleaned 1000G","x":0.0708,"y":0.895},
{"k":"p","c":"nfe","r":"indel","s":"cleaned 1000G","x":0.0708,"y":0.935},
{"k":"p","c":"nfe","r":"indel","s":"cleaned 1000G","x":0.126,"y":0.925},
{"k":"p","c":"nfe","r":"indel","s":"cleaned 1000G","x":0.126,"y":0.94},
{"k":"p","c":"nfe","r":"indel","s":"cleaned 1000G","x":0.224,"y":0.93},
{"k":"p","c":"nfe","r":"indel","s":"cleaned 1000G","x":0.398,"y":0.91},
{"k":"p","c":"nfe","r":"indel","s":"cleaned 1000G","x":0.794,"y":0.9},
{"k":"p","c":"nfe","r":"indel","s":"original 1000G","x":0.000251,"y":0.04},
{"k":"p","c":"nfe","r":"indel","s":"original 1000G","x":0.000251,"y":0.09},
{"k":"p","c":"nfe","r":"indel","s":"original 1000G","x":0.000251,"y":0.135},
{"k":"p","c":"nfe","r":"indel","s":"original 1000G","x":0.000708,"y":0.06},
{"k":"p","c":"nfe","r":"indel","s":"original 1000G","x":0.000708,"y":0.12},
{"k":"p","c":"nfe","r":"indel","s":"original 1000G","x":0.000708,"y":0.18},
{"k":"p","c":"nfe","r":"indel","s":"original 1000G","x":0.00126,"y":0.07},
{"k":"p","c":"nfe","r":"indel","s":"original 1000G","x":0.00126,"y":0.15},
{"k":"p","c":"nfe","r":"indel","s":"original 1000G","x":0.00126,"y":0.24},
{"k":"p","c":"nfe","r":"indel","s":"original 1000G","x":0.00224,"y":0.1},
{"k":"p","c":"nfe","r":"indel","s":"original 1000G","x":0.00224,"y":0.18},
{"k":"p","c":"nfe","r":"indel","s":"original 1000G","x":0.00224,"y":0.28},
{"k":"p","c":"nfe","r":"indel","s":"original 1000G","x":0.00398,"y":0.15},
{"k":"p","c":"nfe","r":"indel","s":"original 1000G","x":0.00398,"y":0.21},
{"k":"p","c":"nfe","r":"indel","s":"original 1000G","x":0.00398,"y":0.28},
{"k":"p","c":"nfe","r":"indel","s":"original 1000G","x":0.00708,"y":0.3},
{"k":"p","c":"nfe","r":"indel","s":"original 1000G","x":0.00708,"y":0.35},
{"k":"p","c":"nfe","r":"indel","s":"original 1000G","x":0.00708,"y":0.41},
{"k":"p","c":"nfe","r":"indel","s":"original 1000G","x":0.0126,"y":0.5},
{"k":"p","c":"nfe","r":"indel","s":"original 1000G","x":0.0126,"y":0.53},
{"k":"p","c":"nfe","r":"indel","s":"original 1000G","x":0.0126,"y":0.57},
{"k":"p","c":"nfe","r":"indel","s":"original 1000G","x":0.0224,"y":0.68},
{"k":"p","c":"nfe","r":"indel","s":"original 1000G","x":0.0224,"y":0.71},
{"k":"p","c":"nfe","r":"indel","s":"original 1000G","x":0.0224,"y":0.74},
{"k":"p","c":"nfe","r":"indel","s":"original 1000G","x":0.0398,"y":0.78},
{"k":"p","c":"nfe","r":"indel","s":"original 1000G","x":0.0398,"y":0.8},
{"k":"p","c":"nfe","r":"indel","s":"original 1000G","x":0.0398,"y":0.82},
{"k":"p","c":"nfe","r":"indel","s":"original 1000G","x":0.0708,"y":0.86},
{"k":"p","c":"nfe","r":"indel","s":"original 1000G","x":0.0708,"y":0.87},
{"k":"p","c":"nfe","r":"indel","s":"original 1000G","x":0.126,"y":0.87},
{"k":"p","c":"nfe","r":"indel","s":"original 1000G","x":0.126,"y":0.88},
{"k":"p","c":"nfe","r":"indel","s":"original 1000G","x":0.224,"y":0.88},
{"k":"p","c":"nfe","r":"indel","s":"original 1000G","x":0.224,"y":0.9},
{"k":"p","c":"nfe","r":"indel","s":"original 1000G","x":0.398,"y":0.86},
{"k":"p","c":"nfe","r":"indel","s":"original 1000G","x":0.398,"y":0.87},
{"k":"p","c":"nfe","r":"indel","s":"original 1000G","x":0.794,"y":0.79},
{"k":"p","c":"nfe","r":"indel","s":"original 1000G","x":0.794,"y":0.81},
{"k":"p","c":"afr","r":"snp","s":"original 1000G, cleaned sites only","x":0.000251,"y":0.17},
{"k":"p","c":"afr","r":"snp","s":"original 1000G, cleaned sites only","x":0.000676,"y":0.41},
{"k":"p","c":"afr","r":"snp","s":"original 1000G, cleaned sites only","x":0.00126,"y":0.51},
{"k":"p","c":"afr","r":"snp","s":"original 1000G, cleaned sites only","x":0.00316,"y":0.64},
{"k":"p","c":"afr","r":"snp","s":"original 1000G, cleaned sites only","x":0.00794,"y":0.76},
{"k":"p","c":"afr","r":"snp","s":"original 1000G, cleaned sites only","x":0.02,"y":0.85},
{"k":"p","c":"afr","r":"snp","s":"original 1000G, cleaned sites only","x":0.0501,"y":0.9},
{"k":"p","c":"afr","r":"snp","s":"original 1000G, cleaned sites only","x":0.126,"y":0.93},
{"k":"p","c":"afr","r":"snp","s":"original 1000G, cleaned sites only","x":0.316,"y":0.94},
{"k":"p","c":"afr","r":"snp","s":"original 1000G, cleaned sites only","x":0.794,"y":0.945},
{"k":"p","c":"afr","r":"snp","s":"cleaned 1000G","x":0.000251,"y":0.16},
{"k":"p","c":"afr","r":"snp","s":"cleaned 1000G","x":0.000676,"y":0.42},
{"k":"p","c":"afr","r":"snp","s":"cleaned 1000G","x":0.00126,"y":0.5},
{"k":"p","c":"afr","r":"snp","s":"cleaned 1000G","x":0.00316,"y":0.63},
{"k":"p","c":"afr","r":"snp","s":"cleaned 1000G","x":0.00794,"y":0.75},
{"k":"p","c":"afr","r":"snp","s":"cleaned 1000G","x":0.02,"y":0.84},
{"k":"p","c":"afr","r":"snp","s":"cleaned 1000G","x":0.0501,"y":0.89},
{"k":"p","c":"afr","r":"snp","s":"cleaned 1000G","x":0.126,"y":0.92},
{"k":"p","c":"afr","r":"snp","s":"cleaned 1000G","x":0.316,"y":0.935},
{"k":"p","c":"afr","r":"snp","s":"cleaned 1000G","x":0.794,"y":0.94},
{"k":"p","c":"afr","r":"snp","s":"original 1000G","x":0.000251,"y":0.13},
{"k":"p","c":"afr","r":"snp","s":"original 1000G","x":0.000676,"y":0.28},
{"k":"p","c":"afr","r":"snp","s":"original 1000G","x":0.00126,"y":0.37},
{"k":"p","c":"afr","r":"snp","s":"original 1000G","x":0.00316,"y":0.47},
{"k":"p","c":"afr","r":"snp","s":"original 1000G","x":0.00794,"y":0.69},
{"k":"p","c":"afr","r":"snp","s":"original 1000G","x":0.02,"y":0.81},
{"k":"p","c":"afr","r":"snp","s":"original 1000G","x":0.0501,"y":0.88},
{"k":"p","c":"afr","r":"snp","s":"original 1000G","x":0.126,"y":0.92},
{"k":"p","c":"afr","r":"snp","s":"original 1000G","x":0.316,"y":0.93},
{"k":"p","c":"afr","r":"snp","s":"original 1000G","x":0.794,"y":0.935},
{"k":"p","c":"eas","r":"snp","s":"original 1000G, cleaned sites only","x":0.000251,"y":0.25},
{"k":"p","c":"eas","r":"snp","s":"original 1000G, cleaned sites only","x":0.001,"y":0.27},
{"k":"p","c":"eas","r":"snp","s":"original 1000G, cleaned sites only","x":0.00126,"y":0.455},
{"k":"p","c":"eas","r":"snp","s":"original 1000G, cleaned sites only","x":0.00251,"y":0.47},
{"k":"p","c":"eas","r":"snp","s":"original 1000G, cleaned sites only","x":0.00501,"y":0.46},
{"k":"p","c":"eas","r":"snp","s":"original 1000G, cleaned sites only","x":0.0126,"y":0.56},
{"k":"p","c":"eas","r":"snp","s":"original 1000G, cleaned sites only","x":0.0316,"y":0.74},
{"k":"p","c":"eas","r":"snp","s":"original 1000G, cleaned sites only","x":0.0794,"y":0.88},
{"k":"p","c":"eas","r":"snp","s":"original 1000G, cleaned sites only","x":0.2,"y":0.95},
{"k":"p","c":"eas","r":"snp","s":"original 1000G, cleaned sites only","x":0.398,"y":0.96},
{"k":"p","c":"eas","r":"snp","s":"original 1000G, cleaned sites only","x":0.794,"y":0.955},
{"k":"p","c":"eas","r":"snp","s":"cleaned 1000G","x":0.000251,"y":0.24},
{"k":"p","c":"eas","r":"snp","s":"cleaned 1000G","x":0.00126,"y":0.445},
{"k":"p","c":"eas","r":"snp","s":"cleaned 1000G","x":0.00251,"y":0.46},
{"k":"p","c":"eas","r":"snp","s":"cleaned 1000G","x":0.0126,"y":0.55},
{"k":"p","c":"eas","r":"snp","s":"cleaned 1000G","x":0.0316,"y":0.73},
{"k":"p","c":"eas","r":"snp","s":"cleaned 1000G","x":0.0794,"y":0.87},
{"k":"p","c":"eas","r":"snp","s":"cleaned 1000G","x":0.2,"y":0.945},
{"k":"p","c":"eas","r":"snp","s":"cleaned 1000G","x":0.398,"y":0.955},
{"k":"p","c":"eas","r":"snp","s":"cleaned 1000G","x":0.794,"y":0.95},
{"k":"p","c":"eas","r":"snp","s":"original 1000G","x":0.000251,"y":0.13},
{"k":"p","c":"eas","r":"snp","s":"original 1000G","x":0.001,"y":0.19},
{"k":"p","c":"eas","r":"snp","s":"original 1000G","x":0.00251,"y":0.26},
{"k":"p","c":"eas","r":"snp","s":"original 1000G","x":0.00501,"y":0.31},
{"k":"p","c":"eas","r":"snp","s":"original 1000G","x":0.0126,"y":0.4},
{"k":"p","c":"eas","r":"snp","s":"original 1000G","x":0.0316,"y":0.65},
{"k":"p","c":"eas","r":"snp","s":"original 1000G","x":0.0794,"y":0.84},
{"k":"p","c":"eas","r":"snp","s":"original 1000G","x":0.2,"y":0.94},
{"k":"p","c":"eas","r":"snp","s":"original 1000G","x":0.398,"y":0.955},
{"k":"p","c":"eas","r":"snp","s":"original 1000G","x":0.794,"y":0.95},
{"k":"p","c":"nfe","r":"snp","s":"original 1000G, cleaned sites only","x":0.000251,"y":0.12},
{"k":"p","c":"nfe","r":"snp","s":"original 1000G, cleaned sites only","x":0.000251,"y":0.2},
{"k":"p","c":"nfe","r":"snp","s":"original 1000G, cleaned sites only","x":0.000251,"y":0.28},
{"k":"p","c":"nfe","r":"snp","s":"original 1000G, cleaned sites only","x":0.000251,"y":0.39},
{"k":"p","c":"nfe","r":"snp","s":"original 1000G, cleaned sites only","x":0.000708,"y":0.38},
{"k":"p","c":"nfe","r":"snp","s":"original 1000G, cleaned sites only","x":0.000708,"y":0.43},
{"k":"p","c":"nfe","r":"snp","s":"original 1000G, cleaned sites only","x":0.000708,"y":0.47},
{"k":"p","c":"nfe","r":"snp","s":"original 1000G, cleaned sites only","x":0.000708,"y":0.77},
{"k":"p","c":"nfe","r":"snp","s":"original 1000G, cleaned sites only","x":0.00126,"y":0.43},
{"k":"p","c":"nfe","r":"snp","s":"original 1000G, cleaned sites only","x":0.00126,"y":0.47},
{"k":"p","c":"nfe","r":"snp","s":"original 1000G, cleaned sites only","x":0.00126,"y":0.5},
{"k":"p","c":"nfe","r":"snp","s":"original 1000G, cleaned sites only","x":0.00126,"y":0.805},
{"k":"p","c":"nfe","r":"snp","s":"original 1000G, cleaned sites only","x":0.00224,"y":0.43},
{"k":"p","c":"nfe","r":"snp","s":"original 1000G, cleaned sites only","x":0.00224,"y":0.48},
{"k":"p","c":"nfe","r":"snp","s":"original 1000G, cleaned sites only","x":0.00224,"y":0.52},
{"k":"p","c":"nfe","r":"snp","s":"original 1000G, cleaned sites only","x":0.00224,"y":0.82},
{"k":"p","c":"nfe","r":"snp","s":"original 1000G, cleaned sites only","x":0.00398,"y":0.52},
{"k":"p","c":"nfe","r":"snp","s":"original 1000G, cleaned sites only","x":0.00398,"y":0.56},
{"k":"p","c":"nfe","r":"snp","s":"original 1000G, cleaned sites only","x":0.00398,"y":0.6},
{"k":"p","c":"nfe","r":"snp","s":"original 1000G, cleaned sites only","x":0.00398,"y":0.87},
{"k":"p","c":"nfe","r":"snp","s":"original 1000G, cleaned sites only","x":0.00708,"y":0.63},
{"k":"p","c":"nfe","r":"snp","s":"original 1000G, cleaned sites only","x":0.00708,"y":0.67},
{"k":"p","c":"nfe","r":"snp","s":"original 1000G, cleaned sites only","x":0.00708,"y":0.7},
{"k":"p","c":"nfe","r":"snp","s":"original 1000G, cleaned sites only","x":0.00708,"y":0.9},
{"k":"p","c":"nfe","r":"snp","s":"original 1000G, cleaned sites only","x":0.0126,"y":0.74},
{"k":"p","c":"nfe","r":"snp","s":"original 1000G, cleaned sites only","x":0.0126,"y":0.77},
{"k":"p","c":"nfe","r":"snp","s":"original 1000G, cleaned sites only","x":0.0126,"y":0.8},
{"k":"p","c":"nfe","r":"snp","s":"original 1000G, cleaned sites only","x":0.0126,"y":0.925},
{"k":"p","c":"nfe","r":"snp","s":"original 1000G, cleaned sites only","x":0.0224,"y":0.84},
{"k":"p","c":"nfe","r":"snp","s":"original 1000G, cleaned sites only","x":0.0224,"y":0.86},
{"k":"p","c":"nfe","r":"snp","s":"original 1000G, cleaned sites only","x":0.0224,"y":0.945},
{"k":"p","c":"nfe","r":"snp","s":"original 1000G, cleaned sites only","x":0.0398,"y":0.92},
{"k":"p","c":"nfe","r":"snp","s":"original 1000G, cleaned sites only","x":0.0398,"y":0.93},
{"k":"p","c":"nfe","r":"snp","s":"original 1000G, cleaned sites only","x":0.0398,"y":0.96},
{"k":"p","c":"nfe","r":"snp","s":"original 1000G, cleaned sites only","x":0.0708,"y":0.955},
{"k":"p","c":"nfe","r":"snp","s":"original 1000G, cleaned sites only","x":0.0708,"y":0.96},
{"k":"p","c":"nfe","r":"snp","s":"original 1000G, cleaned sites only","x":0.0708,"y":0.975},
{"k":"p","c":"nfe","r":"snp","s":"original 1000G, cleaned sites only","x":0.126,"y":0.97},
{"k":"p","c":"nfe","r":"snp","s":"original 1000G, cleaned sites only","x":0.126,"y":0.98},
{"k":"p","c":"nfe","r":"snp","s":"original 1000G, cleaned sites only","x":0.224,"y":0.975},
{"k":"p","c":"nfe","r":"snp","s":"original 1000G, cleaned sites only","x":0.224,"y":0.98},
{"k":"p","c":"nfe","r":"snp","s":"original 1000G, cleaned sites only","x":0.398,"y":0.97},
{"k":"p","c":"nfe","r":"snp","s":"original 1000G, cleaned sites only","x":0.398,"y":0.975},
{"k":"p","c":"nfe","r":"snp","s":"original 1000G, cleaned sites only","x":0.794,"y":0.965},
{"k":"p","c":"nfe","r":"snp","s":"original 1000G, cleaned sites only","x":0.794,"y":0.97},
{"k":"p","c":"nfe","r":"snp","s":"cleaned 1000G","x":0.000251,"y":0.15},
{"k":"p","c":"nfe","r":"snp","s":"cleaned 1000G","x":0.000251,"y":0.25},
{"k":"p","c":"nfe","r":"snp","s":"cleaned 1000G","x":0.000251,"y":0.4},
{"k":"p","c":"nfe","r":"snp","s":"cleaned 1000G","x":0.000708,"y":0.4},
{"k":"p","c":"nfe","r":"snp","s":"cleaned 1000G","x":0.000708,"y":0.46},
{"k":"p","c":"nfe","r":"snp","s":"cleaned 1000G","x":0.000708,"y":0.79},
{"k":"p","c":"nfe","r":"snp","s":"cleaned 1000G","x":0.00126,"y":0.45},
{"k":"p","c":"nfe","r":"snp","s":"cleaned 1000G","x":0.00126,"y":0.81},
{"k":"p","c":"nfe","r":"snp","s":"cleaned 1000G","x":0.00224,"y":0.46},
{"k":"p","c":"nfe","r":"snp","s":"cleaned 1000G","x":0.00224,"y":0.825},
{"k":"p","c":"nfe","r":"snp","s":"cleaned 1000G","x":0.00398,"y":0.55},
{"k":"p","c":"nfe","r":"snp","s":"cleaned 1000G","x":0.00398,"y":0.875},
{"k":"p","c":"nfe","r":"snp","s":"cleaned 1000G","x":0.00708,"y":0.66},
{"k":"p","c":"nfe","r":"snp","s":"cleaned 1000G","x":0.00708,"y":0.905},
{"k":"p","c":"nfe","r":"snp","s":"cleaned 1000G","x":0.0126,"y":0.76},
{"k":"p","c":"nfe","r":"snp","s":"cleaned 1000G","x":0.0126,"y":0.93},
{"k":"p","c":"nfe","r":"snp","s":"cleaned 1000G","x":0.0224,"y":0.85},
{"k":"p","c":"nfe","r":"snp","s":"cleaned 1000G","x":0.0224,"y":0.95},
{"k":"p","c":"nfe","r":"snp","s":"cleaned 1000G","x":0.0398,"y":0.925},
{"k":"p","c":"nfe","r":"snp","s":"cleaned 1000G","x":0.0398,"y":0.962},
{"k":"p","c":"nfe","r":"snp","s":"cleaned 1000G","x":0.0708,"y":0.958},
{"k":"p","c":"nfe","r":"snp","s":"cleaned 1000G","x":0.0708,"y":0.977},
{"k":"p","c":"nfe","r":"snp","s":"cleaned 1000G","x":0.126,"y":0.97},
{"k":"p","c":"nfe","r":"snp","s":"cleaned 1000G","x":0.224,"y":0.978},
{"k":"p","c":"nfe","r":"snp","s":"cleaned 1000G","x":0.398,"y":0.972},
{"k":"p","c":"nfe","r":"snp","s":"cleaned 1000G","x":0.794,"y":0.968},
{"k":"p","c":"nfe","r":"snp","s":"original 1000G","x":0.000251,"y":0.09},
{"k":"p","c":"nfe","r":"snp","s":"original 1000G","x":0.000251,"y":0.13},
{"k":"p","c":"nfe","r":"snp","s":"original 1000G","x":0.000251,"y":0.2},
{"k":"p","c":"nfe","r":"snp","s":"original 1000G","x":0.000251,"y":0.24},
{"k":"p","c":"nfe","r":"snp","s":"original 1000G","x":0.000708,"y":0.15},
{"k":"p","c":"nfe","r":"snp","s":"original 1000G","x":0.000708,"y":0.22},
{"k":"p","c":"nfe","r":"snp","s":"original 1000G","x":0.000708,"y":0.28},
{"k":"p","c":"nfe","r":"snp","s":"original 1000G","x":0.000708,"y":0.34},
{"k":"p","c":"nfe","r":"snp","s":"original 1000G","x":0.00126,"y":0.24},
{"k":"p","c":"nfe","r":"snp","s":"original 1000G","x":0.00126,"y":0.27},
{"k":"p","c":"nfe","r":"snp","s":"original 1000G","x":0.00126,"y":0.29},
{"k":"p","c":"nfe","r":"snp","s":"original 1000G","x":0.00126,"y":0.57},
{"k":"p","c":"nfe","r":"snp","s":"original 1000G","x":0.00224,"y":0.3},
{"k":"p","c":"nfe","r":"snp","s":"original 1000G","x":0.00224,"y":0.35},
{"k":"p","c":"nfe","r":"snp","s":"original 1000G","x":0.00224,"y":0.39},
{"k":"p","c":"nfe","r":"snp","s":"original 1000G","x":0.00398,"y":0.38},
{"k":"p","c":"nfe","r":"snp","s":"original 1000G","x":0.00398,"y":0.43},
{"k":"p","c":"nfe","r":"snp","s":"original 1000G","x":0.00398,"y":0.48},
{"k":"p","c":"nfe","r":"snp","s":"original 1000G","x":0.00398,"y":0.7},
{"k":"p","c":"nfe","r":"snp","s":"original 1000G","x":0.00708,"y":0.52},
{"k":"p","c":"nfe","r":"snp","s":"original 1000G","x":0.00708,"y":0.56},
{"k":"p","c":"nfe","r":"snp","s":"original 1000G","x":0.00708,"y":0.6},
{"k":"p","c":"nfe","r":"snp","s":"original 1000G","x":0.00708,"y":0.77},
{"k":"p","c":"nfe","r":"snp","s":"original 1000G","x":0.0126,"y":0.66},
{"k":"p","c":"nfe","r":"snp","s":"original 1000G","x":0.0126,"y":0.7},
{"k":"p","c":"nfe","r":"snp","s":"original 1000G","x":0.0126,"y":0.73},
{"k":"p","c":"nfe","r":"snp","s":"original 1000G","x":0.0224,"y":0.8},
{"k":"p","c":"nfe","r":"snp","s":"original 1000G","x":0.0224,"y":0.83},
{"k":"p","c":"nfe","r":"snp","s":"original 1000G","x":0.0224,"y":0.9},
{"k":"p","c":"nfe","r":"snp","s":"original 1000G","x":0.0398,"y":0.9},
{"k":"p","c":"nfe","r":"snp","s":"original 1000G","x":0.0398,"y":0.92},
{"k":"p","c":"nfe","r":"snp","s":"original 1000G","x":0.0708,"y":0.94},
{"k":"p","c":"nfe","r":"snp","s":"original 1000G","x":0.0708,"y":0.95},
{"k":"p","c":"nfe","r":"snp","s":"original 1000G","x":0.126,"y":0.955},
{"k":"p","c":"nfe","r":"snp","s":"original 1000G","x":0.126,"y":0.96},
{"k":"p","c":"nfe","r":"snp","s":"original 1000G","x":0.224,"y":0.965},
{"k":"p","c":"nfe","r":"snp","s":"original 1000G","x":0.224,"y":0.97},
{"k":"p","c":"nfe","r":"snp","s":"original 1000G","x":0.398,"y":0.96},
{"k":"p","c":"nfe","r":"snp","s":"original 1000G","x":0.398,"y":0.965},
{"k":"p","c":"nfe","r":"snp","s":"original 1000G","x":0.794,"y":0.955},
{"k":"p","c":"nfe","r":"snp","s":"original 1000G","x":0.794,"y":0.96}
]},
"facet":{
 "row":{"field":"r","type":"nominal","header":{"labels":false,"title":"R²","titleFontSize":14.7,"titleFontWeight":"normal","titleColor":"black","titlePadding":-4}},
 "column":{"field":"c","type":"nominal","header":{"labels":false,"title":"Minor Allele Frequency","titleOrient":"bottom","titleFontSize":14.7,"titleFontWeight":"normal","titleColor":"black","titlePadding":-6}}
},
"spacing":{"row":8,"column":7},
"bounds":"flush",
"spec":{
 "width":111,"height":199,
 "layer":[
  {"transform":[{"filter":"datum.k=='p'"}],
   "mark":{"type":"circle","size":10,"opacity":0.4},
   "encoding":{
    "x":{"field":"x","type":"quantitative","scale":{"type":"log","domain":[0.000162,1.057],"nice":false},
      "axis":{"title":null,"values":[0.000316,0.001,0.00316,0.01,0.0316,0.1,0.316,1],
       "labelExpr":"abs(log(datum.value)/LN10 - round(log(datum.value)/LN10)) < 0.01 ? format(datum.value, '.3f') : ''",
       "gridColor":"#EBEBEB",
       "gridWidth":{"condition":{"test":"abs(log(datum.value)/LN10 - round(log(datum.value)/LN10)) < 0.01","value":1.1},"value":0.55},
       "tickOpacity":{"condition":{"test":"abs(log(datum.value)/LN10 - round(log(datum.value)/LN10)) < 0.01","value":1},"value":0},
       "tickColor":"#333333","tickSize":3.7,"tickWidth":1,"domain":false,"labelFontSize":11.7,"labelColor":"#4D4D4D","labelPadding":2,"labelOverlap":false,"labelFlush":false,"labelBound":false,"labelFont":"Liberation Sans"}},
    "y":{"field":"y","type":"quantitative","scale":{"domain":[-0.005,1.032],"nice":false,"zero":false},
      "axis":{"title":null,"values":[0,0.125,0.25,0.375,0.5,0.625,0.75,0.875,1],
       "labelExpr":"datum.value*4 == round(datum.value*4) ? format(datum.value, '.2f') : ''",
       "gridColor":"#EBEBEB",
       "gridWidth":{"condition":{"test":"datum.value*4 == round(datum.value*4)","value":1.1},"value":0.55},
       "tickOpacity":{"condition":{"test":"datum.value*4 == round(datum.value*4)","value":1},"value":0},
       "tickColor":"#333333","tickSize":3.7,"tickWidth":1,"domain":false,"labelFontSize":11.7,"labelColor":"#4D4D4D","labelPadding":3,"labelOverlap":false,"labelFont":"Liberation Sans"}},
    "color":{"field":"s","type":"nominal","scale":{"domain":["cleaned 1000G","original 1000G","original 1000G, cleaned sites only"],"range":["#F8766D","#00BA38","#619CFF"]},
      "legend":{"orient":"none","legendX":393,"legendY":159,"title":"reference_panel","titleFontSize":14.7,"titleFontWeight":"normal","titleColor":"black","titleFont":"Liberation Sans","labelFontSize":11.7,"labelColor":"black","labelFont":"Liberation Sans","symbolType":"stroke","symbolStrokeWidth":3,"symbolSize":361,"symbolOpacity":1,"rowPadding":5.2,"labelOffset":8,"symbolOffset":2,"titlePadding":8,"padding":0,"labelLimit":300}}
   }},
  {"transform":[{"filter":"datum.k=='l' && datum.s=='cleaned 1000G'"}],
   "mark":{"type":"line","strokeWidth":2.8,"interpolate":"monotone"},
   "encoding":{
    "x":{"field":"x","type":"quantitative","axis":{"title":null}},
    "y":{"field":"y","type":"quantitative","axis":{"title":null}},
    "color":{"field":"s","type":"nominal"}
   }},
  {"transform":[{"filter":"datum.k=='l' && datum.s=='original 1000G'"}],
   "mark":{"type":"line","strokeWidth":2.8,"interpolate":"monotone"},
   "encoding":{
    "x":{"field":"x","type":"quantitative","axis":{"title":null}},
    "y":{"field":"y","type":"quantitative","axis":{"title":null}},
    "color":{"field":"s","type":"nominal"}
   }},
  {"transform":[{"filter":"datum.k=='l' && datum.s=='original 1000G, cleaned sites only'"}],
   "mark":{"type":"line","strokeWidth":2.8,"interpolate":"monotone"},
   "encoding":{
    "x":{"field":"x","type":"quantitative","axis":{"title":null}},
    "y":{"field":"y","type":"quantitative","axis":{"title":null}},
    "color":{"field":"s","type":"nominal"}
   }},
  {"transform":[{"filter":"datum.k=='cs'"}],
   "mark":{"type":"rect","fill":"#D6D6D6","stroke":"#555555","strokeWidth":1},
   "encoding":{"x":{"datum":0.000162,"type":"quantitative","axis":{"title":null}},"x2":{"datum":1.057},"y":{"datum":1.032,"type":"quantitative","axis":{"title":null}},"y2":{"datum":1.141}}},
  {"transform":[{"filter":"datum.k=='cs'"}],
   "mark":{"type":"text","fontSize":11.7,"color":"#1A1A1A","font":"Liberation Sans","align":"center","baseline":"middle"},
   "encoding":{"x":{"datum":0.0131,"type":"quantitative","axis":{"title":null}},"y":{"datum":1.0865,"type":"quantitative","axis":{"title":null}},"text":{"field":"lab"}}},
  {"transform":[{"filter":"datum.k=='rs'"}],
   "mark":{"type":"rect","fill":"#D6D6D6","stroke":"#555555","strokeWidth":1},
   "encoding":{"x":{"datum":1.057,"type":"quantitative","axis":{"title":null}},"x2":{"datum":6.03},"y":{"datum":-0.005,"type":"quantitative","axis":{"title":null}},"y2":{"datum":1.032}}},
  {"transform":[{"filter":"datum.k=='rs'"}],
   "mark":{"type":"text","fontSize":11.7,"color":"#1A1A1A","font":"Liberation Sans","align":"center","baseline":"middle","angle":90},
   "encoding":{"x":{"datum":2.52,"type":"quantitative","axis":{"title":null}},"y":{"datum":0.5135,"type":"quantitative","axis":{"title":null}},"text":{"field":"lab"}}}
 ]
}
}
